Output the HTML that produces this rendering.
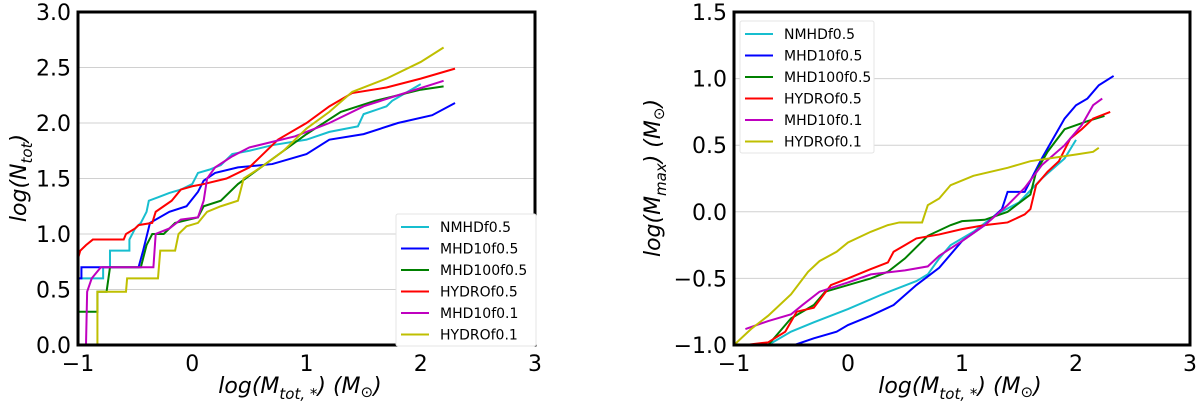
<!DOCTYPE html>
<html><head><meta charset="utf-8"><style>
body{margin:0;background:#fff}
svg{display:block;font-family:"DejaVu Sans","Liberation Sans",sans-serif}
</style></head><body>
<svg id="c" width="1200" height="406"></svg>
<script>
const colors=["#17becf","#0000ff","#008000","#ff0000","#bf00bf","#bfbf00"];
const seriesNames=["NMHDf0.5","MHD10f0.5","MHD100f0.5","HYDROf0.5","MHD10f0.1","HYDROf0.1"];
const xTicks=[-1,0,1,2,3];
const leftYTicks=[0,0.5,1,1.5,2,2.5,3];
const rightYTicks=[-1,-0.5,0,0.5,1,1.5];
const leftData=[
[[-1,0.6],[-0.78,0.6],[-0.78,0.7],[-0.72,0.7],[-0.72,0.85],[-0.55,0.85],[-0.55,0.95],[-0.5,1.05],[-0.45,1.1],[-0.4,1.2],[-0.38,1.3],[-0.3,1.33],[-0.2,1.37],[-0.1,1.4],[0,1.45],[0.05,1.55],[0.15,1.58],[0.25,1.62],[0.35,1.72],[0.5,1.75],[0.7,1.8],[1.0,1.85],[1.2,1.92],[1.45,1.97],[1.5,2.08],[1.7,2.15],[1.75,2.2],[2.0,2.35]],
[[-1,0.6],[-0.97,0.6],[-0.97,0.7],[-0.47,0.7],[-0.43,0.85],[-0.37,1.1],[-0.2,1.2],[-0.05,1.25],[0.05,1.38],[0.1,1.48],[0.2,1.55],[0.4,1.6],[0.7,1.63],[1.0,1.72],[1.2,1.85],[1.5,1.9],[1.8,2.0],[2.1,2.07],[2.3,2.18]],
[[-1,0.3],[-0.83,0.3],[-0.83,0.48],[-0.75,0.48],[-0.72,0.7],[-0.45,0.7],[-0.4,0.9],[-0.35,1.0],[-0.25,1.0],[-0.15,1.1],[0.05,1.15],[0.1,1.25],[0.25,1.3],[0.4,1.45],[0.6,1.6],[0.8,1.75],[1.0,1.9],[1.3,2.1],[1.6,2.2],[2.0,2.3],[2.2,2.33]],
[[-1,0.78],[-0.98,0.85],[-0.93,0.9],[-0.87,0.95],[-0.6,0.95],[-0.58,1.0],[-0.5,1.05],[-0.47,1.08],[-0.35,1.1],[-0.32,1.2],[-0.25,1.25],[-0.18,1.3],[-0.1,1.4],[0,1.43],[0.1,1.45],[0.3,1.5],[0.5,1.6],[0.6,1.7],[0.75,1.85],[1.0,2.0],[1.2,2.15],[1.4,2.27],[1.7,2.32],[2.0,2.4],[2.3,2.49]],
[[-0.93,0],[-0.92,0.48],[-0.88,0.6],[-0.8,0.7],[-0.34,0.7],[-0.32,1.0],[-0.2,1.05],[-0.1,1.13],[0.05,1.15],[0.1,1.3],[0.13,1.5],[0.2,1.6],[0.35,1.7],[0.5,1.78],[0.7,1.83],[0.9,1.88],[1.2,2.0],[1.5,2.15],[1.8,2.25],[2.2,2.38]],
[[-0.83,0],[-0.83,0.48],[-0.58,0.48],[-0.57,0.6],[-0.3,0.6],[-0.28,0.85],[-0.15,0.85],[-0.12,1.0],[-0.05,1.07],[0.05,1.1],[0.13,1.2],[0.25,1.25],[0.4,1.3],[0.45,1.5],[0.6,1.6],[0.8,1.75],[1.0,1.95],[1.2,2.1],[1.4,2.28],[1.7,2.4],[2.0,2.55],[2.2,2.68]]
];
const rightData=[
[[-0.7,-1.0],[-0.5,-0.9],[-0.3,-0.83],[0,-0.73],[0.3,-0.62],[0.6,-0.52],[0.7,-0.47],[0.8,-0.35],[0.9,-0.25],[1.1,-0.15],[1.3,-0.02],[1.5,0.07],[1.7,0.25],[1.9,0.4],[2.0,0.54]],
[[-0.47,-1.0],[-0.3,-0.95],[-0.1,-0.9],[0,-0.85],[0.2,-0.78],[0.4,-0.7],[0.6,-0.55],[0.8,-0.42],[1.0,-0.22],[1.2,-0.1],[1.35,0.02],[1.4,0.15],[1.55,0.15],[1.7,0.4],[1.8,0.55],[1.9,0.7],[2.0,0.8],[2.1,0.85],[2.2,0.95],[2.33,1.02]],
[[-0.7,-1.0],[-0.5,-0.8],[-0.3,-0.7],[-0.2,-0.6],[0,-0.55],[0.2,-0.5],[0.35,-0.45],[0.5,-0.35],[0.7,-0.18],[0.9,-0.1],[1.0,-0.07],[1.2,-0.06],[1.4,0.0],[1.6,0.13],[1.65,0.3],[1.75,0.45],[1.9,0.62],[2.1,0.68],[2.25,0.72]],
[[-0.9,-1.0],[-0.7,-0.98],[-0.55,-0.9],[-0.45,-0.75],[-0.3,-0.72],[-0.15,-0.55],[0,-0.5],[0.2,-0.43],[0.35,-0.38],[0.4,-0.3],[0.5,-0.25],[0.6,-0.2],[0.8,-0.17],[1.0,-0.13],[1.2,-0.1],[1.4,-0.08],[1.55,-0.02],[1.6,0.02],[1.65,0.2],[1.75,0.3],[1.85,0.38],[1.95,0.55],[2.05,0.62],[2.15,0.7],[2.3,0.75]],
[[-0.9,-0.88],[-0.7,-0.82],[-0.5,-0.77],[-0.4,-0.7],[-0.25,-0.6],[0,-0.53],[0.2,-0.47],[0.5,-0.44],[0.7,-0.41],[0.8,-0.33],[1.0,-0.22],[1.2,-0.1],[1.4,0.05],[1.55,0.18],[1.7,0.35],[1.9,0.5],[2.05,0.65],[2.15,0.8],[2.23,0.85]],
[[-1,-1.0],[-0.85,-0.88],[-0.7,-0.78],[-0.5,-0.62],[-0.35,-0.45],[-0.25,-0.37],[-0.1,-0.3],[0,-0.23],[0.2,-0.15],[0.35,-0.1],[0.45,-0.08],[0.65,-0.08],[0.7,0.05],[0.8,0.1],[0.9,0.2],[1.1,0.27],[1.4,0.33],[1.6,0.38],[2.0,0.43],[2.15,0.45],[2.2,0.48]]
];
const NS="http://www.w3.org/2000/svg";
const svg=document.getElementById('c');
function mk(tag,attrs,parent,text){const e=document.createElementNS(NS,tag);for(const k in attrs)e.setAttribute(k,attrs[k]);if(text!==undefined)e.textContent=text;(parent||svg).appendChild(e);return e;}
function fmt(v,dec){let s=dec?v.toFixed(1):String(v);return s.replace('-','\u2212');}
function panel(p){
  const g=mk('g',{});
  
  
  const sx=v=>p.x0+(v-p.xmin)/(p.xmax-p.xmin)*(p.x1-p.x0);
  const sy=v=>p.y0-(v-p.ymin)/(p.ymax-p.ymin)*(p.y0-p.y1);
  const cid='clip'+p.name;
  const cp=mk('clipPath',{id:cid},g);mk('rect',{x:p.x0,y:p.y1,width:p.x1-p.x0,height:p.y0-p.y1},cp);
  p.yTicks.forEach(t=>{
    const l=mk('line',{x1:p.x0,x2:p.x1,y1:sy(t),y2:sy(t),stroke:'#d0d0d0','stroke-width':1},g);
    
    
    const tx=mk('text',{x:p.x0-7,y:sy(t)+8,'text-anchor':'end','font-size':22},g,fmt(t,true));
    
    
  });
  xTicks.forEach(t=>{
    const tx=mk('text',{x:sx(t),y:p.y0+26,'text-anchor':'middle','font-size':22},g,fmt(t,false));
    
    
  });
  const lg=mk('g',{'clip-path':'url(#'+cid+')'},g);
  p.data.forEach((s,i)=>{
    const pl=mk('polyline',{points:s.map(d=>sx(d[0])+','+sy(d[1])).join(' '),fill:'none',stroke:colors[i],'stroke-width':2},lg);
    
    
  });
  const fr=mk('rect',{x:p.x0,y:p.y1,width:p.x1-p.x0,height:p.y0-p.y1,fill:'none',stroke:'#000','stroke-width':3},g);
  
  
  const L=p.leg;
  const lb=mk('g',{},g);
  
  
  mk('rect',{x:L.x,y:L.y,width:L.w,height:132,fill:'#fff',stroke:'#e4e4e4','stroke-width':1,rx:2},lb);
  seriesNames.forEach((n,i)=>{
    const e=mk('g',{},lb);
    
    
    const yy=L.y+13+i*21.5;
    mk('line',{x1:L.x+5,x2:L.x+33,y1:yy,y2:yy,stroke:colors[i],'stroke-width':2},e);
    mk('text',{x:L.x+44,y:yy+5,'font-size':14},e,n);
  });
  const xt=mk('text',{x:p.xlx,y:393,'text-anchor':'middle','font-size':22,'font-style':'italic'},g);
  xt.innerHTML='log(M<tspan font-size="15" dy="6">tot, *</tspan><tspan dy="-6">) (M</tspan><tspan font-size="15" dy="4">\u2299</tspan><tspan dy="-4">)</tspan>';
  
  
  const yt=mk('text',{x:0,y:0,'text-anchor':'middle','font-size':22,'font-style':'italic',transform:'translate('+p.ylx+',178) rotate(-90)'},g);
  yt.innerHTML=p.ytitle;
  
  
}
panel({name:'left-panel',x0:78,x1:535,y0:345,y1:12,xmin:-1,xmax:3,ymin:0,ymax:3,yTicks:leftYTicks,data:leftData,
  leg:{x:396,y:214,w:140},xlx:300,ylx:26,ytitle:'log(N<tspan font-size="15" dy="6">tot</tspan><tspan dy="-6">)</tspan>'});
panel({name:'right-panel',x0:734,x1:1190,y0:345,y1:12,xmin:-1,xmax:3,ymin:-1,ymax:1.5,yTicks:rightYTicks,data:rightData,
  leg:{x:740,y:21,w:134},xlx:960,ylx:660,ytitle:'log(M<tspan font-size="15" dy="6">max</tspan><tspan dy="-6">) (M</tspan><tspan font-size="15" dy="4">\u2299</tspan><tspan dy="-4">)</tspan>'});
</script>
</body></html>
